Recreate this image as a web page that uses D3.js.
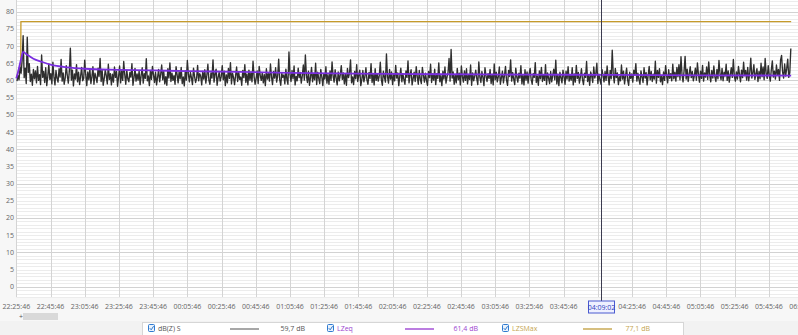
<!DOCTYPE html>
<html>
<head>
<meta charset="utf-8">
<script src="https://cdn.jsdelivr.net/npm/d3@7/dist/d3.min.js"></script>
<style>
  body { margin: 0; background: #f7f7f7; font-family: "Segoe UI", "Open Sans", "DejaVu Sans", sans-serif; }
  svg { display: block; }
  .tick-label { font-size: 7px; fill: #666; }
  .legend-text { font-size: 7px; }
</style>
</head>
<body>
<svg id="chart" width="798" height="335"></svg>
<script>
// start of the measurement, tick step and cursor
let startTime = "2021-01-01 22:25:46";
let endTime = "2021-01-02 06:05:46";
let cursorTime = "2021-01-02 04:09:02";
let tickStepMinutes = 20;
let yTickValues = [0, 5, 10, 15, 20, 25, 30, 35, 40, 45, 50, 55, 60, 65, 70, 75, 80];

// dB(Z) S, one value every 36 s, first value 24 s after start
let levelStepSeconds = 36;
let levelOffsetSeconds = 24;
let levelValues = [
  59.8, 61.4, 60.2, 63.9, 62.1, 65.7, 73.0, 60.8, 63.6, 59.1, 72.6, 62.3, 64.9, 59.7, 61.8, 58.6, 63.2, 60.5, 62.8, 59.3,
  64.1, 60.0, 61.7, 58.8, 67.4, 60.9, 62.6, 59.4, 63.7, 58.5, 61.2, 64.8, 60.3, 62.0, 59.0, 65.3, 61.1, 58.7, 62.9, 60.6,
  59.5, 63.4, 61.0, 66.1, 59.8, 62.2, 58.9, 60.7, 64.3, 61.5, 59.2, 62.7, 69.4, 60.1, 63.0, 58.4, 61.9, 60.4, 64.6, 59.6,
  62.4, 58.8, 61.3, 63.8, 59.9, 60.6, 65.9, 61.6, 58.5, 62.5, 60.2, 63.3, 59.1, 61.0, 64.0, 58.9, 62.1, 60.8, 59.4, 63.6,
  61.2, 66.4, 59.7, 62.9, 58.6, 60.5, 63.1, 61.4, 59.0, 64.7, 60.3, 62.0, 58.7, 61.8, 59.5, 63.9, 60.9, 62.6, 58.3, 61.1,
  64.2, 59.3, 62.8, 60.0, 65.5, 61.7, 58.9, 63.0, 60.4, 59.6, 62.3, 61.0, 64.9, 58.6, 60.8, 63.5, 59.8, 61.9, 60.1, 62.7,
  58.8, 61.5, 63.7, 59.2, 62.0, 60.6, 66.3, 59.9, 61.3, 58.5, 62.9, 60.3, 64.1, 61.6, 59.4, 62.4, 58.7, 60.9, 63.2, 59.6,
  61.8, 64.5, 60.2, 62.6, 59.0, 61.1, 58.6, 63.4, 60.7, 65.1, 59.7, 62.1, 60.0, 61.4, 58.9, 64.0, 61.7, 59.3, 62.5, 60.5,
  63.8, 59.1, 61.0, 58.4, 62.8, 60.1, 65.8, 61.9, 59.6, 62.3, 60.8, 58.8, 63.6, 61.2, 59.4, 60.6, 64.4, 59.9, 62.0, 61.3,
  58.7, 62.6, 60.4, 63.1, 59.2, 61.5, 64.7, 60.0, 58.9, 62.2, 60.7, 66.0, 59.5, 61.8, 63.3, 58.6, 60.9, 62.4, 59.8, 61.1,
  64.3, 60.2, 62.7, 58.5, 61.6, 59.3, 63.5, 60.6, 65.2, 59.0, 62.1, 60.9, 58.8, 61.4, 63.9, 59.7, 62.5, 60.3, 61.0, 58.6,
  62.9, 60.8, 64.6, 59.4, 61.9, 58.7, 63.0, 60.1, 62.4, 59.6, 65.6, 61.2, 58.9, 60.5, 62.8, 59.1, 64.1, 61.5, 60.0, 62.2,
  59.3, 61.7, 58.5, 63.4, 60.4, 62.0, 59.8, 64.8, 61.0, 58.8, 62.6, 60.7, 63.7, 59.5, 61.3, 66.2, 60.2, 58.6, 62.1, 60.9,
  61.6, 59.0, 63.3, 60.3, 58.9, 68.3, 61.8, 59.7, 62.9, 60.5, 64.2, 58.7, 61.2, 59.9, 63.6, 60.8, 62.3, 59.2, 61.4, 64.5,
  60.1, 67.4, 61.5, 59.4, 62.7, 58.6, 60.9, 63.8, 59.6, 61.9, 60.2, 65.0, 58.8, 62.4, 60.6, 59.1, 63.2, 61.1, 58.5, 62.0,
  60.4, 64.0, 59.2, 61.7, 58.9, 62.8, 60.0, 65.4, 61.3, 59.5, 63.1, 60.7, 58.7, 62.5, 59.9, 61.6, 64.3, 60.3, 62.2, 59.0,
  61.9, 58.6, 63.5, 60.8, 62.1, 66.0, 59.3, 61.0, 58.8, 62.6, 60.5, 64.6, 59.7, 61.5, 63.0, 58.5, 60.2, 62.9, 59.6, 61.2,
  63.7, 60.1, 58.9, 62.3, 60.6, 64.9, 59.4, 61.8, 58.7, 63.4, 60.0, 62.0, 59.8, 61.4, 65.3, 60.3, 58.6, 62.7, 61.0, 59.5,
  67.7, 61.1, 59.2, 63.2, 60.4, 62.5, 58.8, 61.7, 59.9, 64.4, 60.7, 62.2, 58.5, 61.3, 63.6, 59.6, 62.0, 60.2, 58.9, 62.8,
  60.9, 65.7, 59.3, 61.6, 63.1, 58.7, 60.5, 62.4, 59.7, 64.0, 61.2, 58.9, 62.9, 60.3, 59.1, 63.8, 61.5, 59.5, 62.1, 60.0,
  58.6, 62.6, 60.8, 64.7, 59.4, 61.9, 60.1, 63.3, 58.8, 62.0, 60.6, 65.1, 59.6, 61.4, 58.5, 62.7, 60.4, 63.9, 59.2, 61.0,
  62.3, 66.4, 59.8, 69.0, 60.7, 62.5, 58.9, 61.6, 59.3, 63.5, 60.2, 62.1, 58.7, 64.2, 61.1, 59.5, 62.8, 60.0, 63.4, 59.0,
  61.7, 60.3, 64.5, 58.6, 62.2, 59.9, 61.3, 63.0, 60.5, 58.8, 65.4, 61.0, 59.4, 62.6, 60.9, 58.5, 63.7, 61.4, 59.7, 62.0,
  60.6, 63.2, 59.1, 61.8, 58.7, 64.8, 60.2, 62.4, 59.6, 61.1, 63.9, 58.9, 60.8, 62.7, 59.3, 61.5, 64.1, 60.0, 58.6, 62.9,
  61.2, 66.0, 59.8, 62.3, 60.4, 58.8, 63.6, 61.0, 59.5, 62.1, 60.7, 64.3, 59.0, 61.6, 58.7, 63.1, 60.1, 62.5, 59.2, 61.9,
  63.5, 60.3, 58.9, 62.0, 60.9, 65.2, 59.4, 61.3, 58.6, 62.8, 60.5, 63.8, 59.7, 61.7, 60.0, 64.6, 58.8, 62.2, 60.6, 59.1,
  62.6, 59.6, 61.4, 63.3, 60.2, 65.9, 59.0, 61.8, 58.5, 62.4, 60.8, 59.3, 63.0, 61.1, 58.9, 62.7, 60.4, 64.0, 59.8, 61.5,
  60.1, 63.7, 58.7, 61.9, 59.5, 64.4, 60.6, 62.3, 59.2, 61.0, 63.4, 60.3, 58.8, 62.1, 60.9, 65.5, 59.7, 61.6, 58.6, 62.5,
  61.3, 59.4, 63.9, 60.7, 62.0, 65.0, 59.1, 61.8, 60.2, 58.9, 63.2, 61.5, 59.6, 62.6, 60.0, 64.2, 61.2, 58.7, 62.9, 60.5,
  68.8, 61.7, 59.3, 63.5, 60.8, 62.2, 58.8, 61.1, 59.9, 64.5, 60.4, 62.7, 59.0, 61.4, 63.6, 60.1, 58.6, 62.4, 60.6, 61.9,
  59.5, 63.0, 61.6, 64.9, 59.8, 62.1, 60.3, 58.9, 62.8, 61.0, 59.4, 63.7, 60.7, 62.3, 58.7, 61.5, 64.1, 60.2, 62.6, 59.7,
  61.8, 60.4, 65.6, 59.2, 62.9, 60.9, 63.4, 59.6, 61.2, 58.8, 62.5, 60.0, 64.3, 61.4, 59.3, 63.1, 60.6, 62.0, 59.9, 64.7,
  60.5, 62.4, 59.8, 63.8, 61.1, 64.6, 60.2, 66.9, 61.7, 59.6, 62.8, 67.0, 60.4, 63.3, 59.7, 61.9, 64.0, 60.8, 62.6, 59.9,
  61.4, 63.6, 60.1, 65.1, 61.8, 59.5, 62.7, 60.6, 64.4, 59.8, 62.2, 61.0, 63.9, 60.3, 65.4, 61.5, 59.6, 62.9, 60.7, 64.2,
  61.1, 59.7, 63.2, 60.5, 65.8, 62.0, 60.2, 63.5, 59.9, 62.4, 61.3, 64.7, 60.0, 62.8, 59.5, 61.6, 63.7, 60.9, 66.1, 61.2,
  59.8, 62.5, 60.4, 64.1, 61.7, 59.6, 63.0, 60.8, 65.3, 61.4, 62.9, 60.1, 63.8, 59.9, 62.3, 66.5, 60.7, 62.1, 64.6, 60.3,
  61.9, 63.4, 59.7, 62.6, 60.5, 65.0, 61.1, 63.9, 60.2, 66.4, 62.0, 60.6, 64.3, 61.5, 59.8, 63.1, 65.7, 61.0, 62.7, 60.4,
  64.5, 61.6, 63.2, 60.0, 65.9, 67.3, 62.4, 60.7, 64.8, 61.3, 63.5, 66.2, 60.9, 62.2, 69.3
];

// LZeq, minutes after start
let lzeqMinutes = [0, 1, 3, 4, 6, 10, 15, 20, 30, 40, 60, 80, 100, 130, 160, 200, 250, 300, 350, 400, 453];
let lzeqValues = [60.6, 62.4, 66.6, 68.3, 67.6, 66.3, 65.4, 64.6, 63.8, 63.4, 63.1, 62.9, 62.7, 62.5, 62.2, 62.0, 61.8, 61.7, 61.6, 61.5, 61.4];

// LZSMax, minutes after start
let lzsMaxMinutes = [0, 2.6, 2.7, 453];
let lzsMaxValues = [60.8, 64.8, 77.1, 77.1];

// legend entries
let legendNames = ["dB(Z) S", "LZeq", "LZSMax"];
let legendValues = ["59,7 dB", "61,4 dB", "77,1 dB"];

let parseTime = d3.timeParse("%Y-%m-%d %H:%M:%S");
let formatTime = d3.timeFormat("%H:%M:%S");
let t0 = parseTime(startTime);
let t1 = parseTime(endTime);
let tCursor = parseTime(cursorTime);

let svg = d3.select("#chart");
let plotLeft = 16.3, plotRight = 798, plotTop = 0, plotBottom = 297;

let x = d3.scaleTime()
    .domain([t0, t1])
    .range([plotLeft, plotLeft + 23 * 34.21]);

let y = d3.scaleLinear()
    .domain([-3, 83.4])
    .range([plotBottom, plotTop]);

// plot background
svg.append("rect")
    .attr("x", plotLeft)
    .attr("y", plotTop)
    .attr("width", plotRight - plotLeft)
    .attr("height", plotBottom - plotTop)
    .attr("fill", "#ffffff");

// horizontal grid: minor every dB, major every 10 dB
let grid = svg.append("g").attr("class", "grid");
grid.selectAll("line.minor")
    .data(d3.range(-3, 84, 1))
    .enter().append("line")
    .attr("x1", plotLeft).attr("x2", plotRight)
    .attr("y1", d => Math.round(y(d)) + 0.5)
    .attr("y2", d => Math.round(y(d)) + 0.5)
    .attr("stroke", d => d % 10 == 0 ? "#d2d2d2" : "#ececec")
    .attr("stroke-width", 1);

// vertical grid on each tick
let xTicks = d3.range(0, 24).map(i => d3.timeMinute.offset(t0, i * tickStepMinutes));
grid.selectAll("line.vert")
    .data(xTicks)
    .enter().append("line")
    .attr("x1", d => Math.round(x(d)) + 0.5)
    .attr("x2", d => Math.round(x(d)) + 0.5)
    .attr("y1", plotTop).attr("y2", plotBottom)
    .attr("stroke", "#d4d4d4");

// y labels
svg.append("g").selectAll("text")
    .data(yTickValues)
    .enter().append("text")
    .attr("class", "tick-label")
    .attr("x", 14)
    .attr("y", d => y(d) + 2.5)
    .attr("text-anchor", "end")
    .text(d => d);

// x labels (the cursor label covers the one below it)
svg.append("g").selectAll("text")
    .data(xTicks.filter(d => Math.abs(x(d) - x(tCursor)) > 12))
    .enter().append("text")
    .attr("class", "tick-label")
    .attr("x", d => x(d))
    .attr("y", 309)
    .attr("text-anchor", "middle")
    .text(d => formatTime(d));

// series data
let levelData = levelValues.map((v, i) => ({
    t: d3.timeSecond.offset(t0, levelOffsetSeconds + i * levelStepSeconds), v: v
}));
let lzeqData = lzeqValues.map((v, i) => ({ t: d3.timeSecond.offset(t0, lzeqMinutes[i] * 60), v: v }));
let maxData = lzsMaxValues.map((v, i) => ({ t: d3.timeSecond.offset(t0, lzsMaxMinutes[i] * 60), v: v }));

let line = d3.line()
    .x(d => x(d.t))
    .y(d => y(d.v));

let smooth = d3.line()
    .x(d => x(d.t))
    .y(d => y(d.v))
    .curve(d3.curveMonotoneX);

svg.append("path")
    .datum(maxData)
    .attr("d", line)
    .attr("fill", "none")
    .attr("stroke", "#c59a2a")
    .attr("stroke-width", 1.3);

svg.append("path")
    .datum(levelData)
    .attr("d", line)
    .attr("fill", "none")
    .attr("stroke", "#2e2e2e")
    .attr("stroke-width", 1.35)
    .attr("stroke-linejoin", "round");

svg.append("path")
    .datum(lzeqData)
    .attr("d", smooth)
    .attr("fill", "none")
    .attr("stroke", "#7a2ee0")
    .attr("stroke-width", 1.8);

// cursor
let cx = Math.round(x(tCursor)) - 1.5;
svg.append("line")
    .attr("x1", cx).attr("x2", cx)
    .attr("y1", plotTop).attr("y2", 301)
    .attr("stroke", "#3b3b4f")
    .attr("stroke-width", 1);
svg.append("rect")
    .attr("x", cx - 13).attr("y", 301)
    .attr("width", 26).attr("height", 12)
    .attr("fill", "#eef0ff")
    .attr("stroke", "#4a5ad0")
    .attr("stroke-width", 1);
svg.append("text")
    .attr("class", "tick-label")
    .attr("x", cx).attr("y", 309.5)
    .attr("text-anchor", "middle")
    .style("fill", "#3040c0")
    .text(cursorTime.slice(11));

// scroll bar
svg.append("text")
    .attr("x", 19).attr("y", 319)
    .attr("font-size", 7).attr("fill", "#555")
    .text("+");
svg.append("rect")
    .attr("x", 23).attr("y", 313)
    .attr("width", 35).attr("height", 7)
    .attr("fill", "#d9d9d9");

// legend
svg.append("rect")
    .attr("x", 0).attr("y", 321)
    .attr("width", 798).attr("height", 14)
    .attr("fill", "#f2f2f2");
svg.append("rect")
    .attr("x", 142.5).attr("y", 322.5)
    .attr("width", 541).attr("height", 14)
    .attr("fill", "#ffffff")
    .attr("stroke", "#d6d6d6");

let legendColors = ["#8a8a8a", "#a452d6", "#c9aa55"];
let legendTextColors = ["#555555", "#9b45d0", "#c4a550"];
let legendX = [148, 327, 502];
let legendLineX = [230, 405, 583];
let legendValueX = [305, 478, 650];
let legend = svg.append("g").selectAll("g")
    .data(legendNames)
    .enter().append("g")
    .attr("transform", "translate(0,324)");

legend.append("rect")
    .attr("x", (d, i) => legendX[i] + 0.5).attr("y", 0.5)
    .attr("width", 6).attr("height", 7)
    .attr("rx", 1)
    .attr("fill", "#eaf2fb")
    .attr("stroke", "#2f7bd0");
legend.append("path")
    .attr("d", (d, i) => "M" + (legendX[i] + 1.8) + ",4.2 l1.4,1.6 l2.4,-3.6")
    .attr("fill", "none")
    .attr("stroke", "#2f7bd0")
    .attr("stroke-width", 1);
legend.append("text")
    .attr("class", "legend-text")
    .attr("x", (d, i) => legendX[i] + 10).attr("y", 7)
    .attr("fill", (d, i) => legendTextColors[i])
    .text(d => d);
legend.append("line")
    .attr("x1", (d, i) => legendLineX[i]).attr("x2", (d, i) => legendLineX[i] + 29)
    .attr("y1", 5).attr("y2", 5)
    .attr("stroke", (d, i) => legendColors[i])
    .attr("stroke-width", 1.5);
legend.append("text")
    .attr("class", "legend-text")
    .attr("x", (d, i) => legendValueX[i]).attr("y", 7)
    .attr("text-anchor", "end")
    .attr("fill", (d, i) => legendTextColors[i])
    .text((d, i) => legendValues[i]);
</script>
</body>
</html>
